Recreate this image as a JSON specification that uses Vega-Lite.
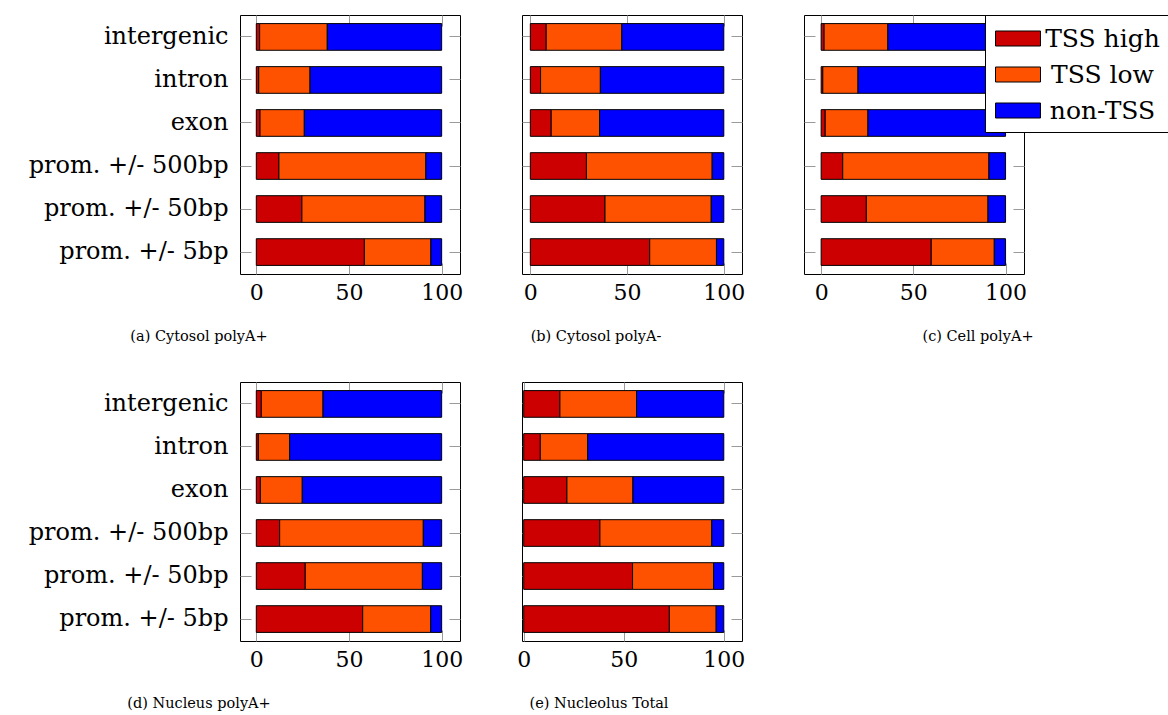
{
  "$schema": "https://vega.github.io/schema/vega-lite/v6.json",
  "background": "white",
  "padding": {"left": 20, "top": 14, "right": 0, "bottom": 0},
  "bounds": "flush",
  "data": {"values": [
    {"p":"a","r":"intergenic","c":"TSS high","v":1.8},{"p":"a","r":"intergenic","c":"TSS low","v":36.5},{"p":"a","r":"intergenic","c":"non-TSS","v":61.7},
    {"p":"a","r":"intron","c":"TSS high","v":1.3},{"p":"a","r":"intron","c":"TSS low","v":27.7},{"p":"a","r":"intron","c":"non-TSS","v":71.0},
    {"p":"a","r":"exon","c":"TSS high","v":2.0},{"p":"a","r":"exon","c":"TSS low","v":23.9},{"p":"a","r":"exon","c":"non-TSS","v":74.1},
    {"p":"a","r":"prom.  +/- 500bp","c":"TSS high","v":12.2},{"p":"a","r":"prom.  +/- 500bp","c":"TSS low","v":79.3},{"p":"a","r":"prom.  +/- 500bp","c":"non-TSS","v":8.5},
    {"p":"a","r":"prom.  +/- 50bp","c":"TSS high","v":24.6},{"p":"a","r":"prom.  +/- 50bp","c":"TSS low","v":66.4},{"p":"a","r":"prom.  +/- 50bp","c":"non-TSS","v":9.0},
    {"p":"a","r":"prom.  +/- 5bp","c":"TSS high","v":58.3},{"p":"a","r":"prom.  +/- 5bp","c":"TSS low","v":35.9},{"p":"a","r":"prom.  +/- 5bp","c":"non-TSS","v":5.8},

    {"p":"b","r":"intergenic","c":"TSS high","v":8.2},{"p":"b","r":"intergenic","c":"TSS low","v":39.1},{"p":"b","r":"intergenic","c":"non-TSS","v":52.7},
    {"p":"b","r":"intron","c":"TSS high","v":5.3},{"p":"b","r":"intron","c":"TSS low","v":30.9},{"p":"b","r":"intron","c":"non-TSS","v":63.8},
    {"p":"b","r":"exon","c":"TSS high","v":10.8},{"p":"b","r":"exon","c":"TSS low","v":25.0},{"p":"b","r":"exon","c":"non-TSS","v":64.2},
    {"p":"b","r":"prom.  +/- 500bp","c":"TSS high","v":29.0},{"p":"b","r":"prom.  +/- 500bp","c":"TSS low","v":65.0},{"p":"b","r":"prom.  +/- 500bp","c":"non-TSS","v":6.0},
    {"p":"b","r":"prom.  +/- 50bp","c":"TSS high","v":38.6},{"p":"b","r":"prom.  +/- 50bp","c":"TSS low","v":54.9},{"p":"b","r":"prom.  +/- 50bp","c":"non-TSS","v":6.5},
    {"p":"b","r":"prom.  +/- 5bp","c":"TSS high","v":61.7},{"p":"b","r":"prom.  +/- 5bp","c":"TSS low","v":34.5},{"p":"b","r":"prom.  +/- 5bp","c":"non-TSS","v":3.8},

    {"p":"c","r":"intergenic","c":"TSS high","v":1.6},{"p":"c","r":"intergenic","c":"TSS low","v":34.6},{"p":"c","r":"intergenic","c":"non-TSS","v":63.8},
    {"p":"c","r":"intron","c":"TSS high","v":0.9},{"p":"c","r":"intron","c":"TSS low","v":19.1},{"p":"c","r":"intron","c":"non-TSS","v":80.0},
    {"p":"c","r":"exon","c":"TSS high","v":2.2},{"p":"c","r":"exon","c":"TSS low","v":23.2},{"p":"c","r":"exon","c":"non-TSS","v":74.6},
    {"p":"c","r":"prom.  +/- 500bp","c":"TSS high","v":11.7},{"p":"c","r":"prom.  +/- 500bp","c":"TSS low","v":79.3},{"p":"c","r":"prom.  +/- 500bp","c":"non-TSS","v":9.0},
    {"p":"c","r":"prom.  +/- 50bp","c":"TSS high","v":24.5},{"p":"c","r":"prom.  +/- 50bp","c":"TSS low","v":66.0},{"p":"c","r":"prom.  +/- 50bp","c":"non-TSS","v":9.5},
    {"p":"c","r":"prom.  +/- 5bp","c":"TSS high","v":59.7},{"p":"c","r":"prom.  +/- 5bp","c":"TSS low","v":34.2},{"p":"c","r":"prom.  +/- 5bp","c":"non-TSS","v":6.1},

    {"p":"d","r":"intergenic","c":"TSS high","v":2.7},{"p":"d","r":"intergenic","c":"TSS low","v":33.3},{"p":"d","r":"intergenic","c":"non-TSS","v":64.0},
    {"p":"d","r":"intron","c":"TSS high","v":1.1},{"p":"d","r":"intron","c":"TSS low","v":16.9},{"p":"d","r":"intron","c":"non-TSS","v":82.0},
    {"p":"d","r":"exon","c":"TSS high","v":2.2},{"p":"d","r":"exon","c":"TSS low","v":22.6},{"p":"d","r":"exon","c":"non-TSS","v":75.2},
    {"p":"d","r":"prom.  +/- 500bp","c":"TSS high","v":12.6},{"p":"d","r":"prom.  +/- 500bp","c":"TSS low","v":77.5},{"p":"d","r":"prom.  +/- 500bp","c":"non-TSS","v":9.9},
    {"p":"d","r":"prom.  +/- 50bp","c":"TSS high","v":26.4},{"p":"d","r":"prom.  +/- 50bp","c":"TSS low","v":63.2},{"p":"d","r":"prom.  +/- 50bp","c":"non-TSS","v":10.4},
    {"p":"d","r":"prom.  +/- 5bp","c":"TSS high","v":57.4},{"p":"d","r":"prom.  +/- 5bp","c":"TSS low","v":36.7},{"p":"d","r":"prom.  +/- 5bp","c":"non-TSS","v":5.9},

    {"p":"e","r":"intergenic","c":"TSS high","v":18.1},{"p":"e","r":"intergenic","c":"TSS low","v":38.3},{"p":"e","r":"intergenic","c":"non-TSS","v":43.6},
    {"p":"e","r":"intron","c":"TSS high","v":8.3},{"p":"e","r":"intron","c":"TSS low","v":23.7},{"p":"e","r":"intron","c":"non-TSS","v":68.0},
    {"p":"e","r":"exon","c":"TSS high","v":21.6},{"p":"e","r":"exon","c":"TSS low","v":33.0},{"p":"e","r":"exon","c":"non-TSS","v":45.4},
    {"p":"e","r":"prom.  +/- 500bp","c":"TSS high","v":38.1},{"p":"e","r":"prom.  +/- 500bp","c":"TSS low","v":55.9},{"p":"e","r":"prom.  +/- 500bp","c":"non-TSS","v":6.0},
    {"p":"e","r":"prom.  +/- 50bp","c":"TSS high","v":54.4},{"p":"e","r":"prom.  +/- 50bp","c":"TSS low","v":40.5},{"p":"e","r":"prom.  +/- 50bp","c":"non-TSS","v":5.1},
    {"p":"e","r":"prom.  +/- 5bp","c":"TSS high","v":72.8},{"p":"e","r":"prom.  +/- 5bp","c":"TSS low","v":23.4},{"p":"e","r":"prom.  +/- 5bp","c":"non-TSS","v":3.8}
  ]},
  "columns": 3,
  "spacing": {"row": 108, "column": 62},
  "concat": [
    {
      "width": 220, "height": 259,
      "title": {"text": "(a) Cytosol polyA+", "orient": "bottom", "dx": -151, "offset": 27},
      "transform": [{"filter": "datum.p === 'a'"}],
      "layer": [
        {"mark": {"type": "bar", "stroke": "black", "strokeWidth": 1},
         "encoding": {
           "y": {"field": "r", "type": "nominal", "sort": ["intergenic","intron","exon","prom.  +/- 500bp","prom.  +/- 50bp","prom.  +/- 5bp"], "scale": {"paddingInner": 0.38, "paddingOuter": 0.2}, "axis": {"orient": "left", "labelFontSize": 24, "labelPadding": 23, "labelLimit": 0}},
           "x": {"field": "v", "type": "quantitative", "stack": "zero", "scale": {"domain": [-8.8, 109.9], "nice": false, "zero": false}, "axis": {"orient": "bottom", "values": [0, 50, 100], "labelFontSize": 22, "labelPadding": 19}},
           "color": {"field": "c", "type": "nominal", "scale": {"domain": ["TSS high","TSS low","non-TSS"], "range": ["#cc0000","#ff5200","#0000ff"]}, "legend": {"orient": "none", "legendX": 745, "legendY": 0}}
         }},
        {"mark": {"type": "bar", "opacity": 0},
         "encoding": {
           "y": {"field": "r", "type": "nominal", "sort": ["intergenic","intron","exon","prom.  +/- 500bp","prom.  +/- 50bp","prom.  +/- 5bp"], "axis": {"orient": "right", "labels": false}},
           "x": {"field": "v", "type": "quantitative", "axis": {"orient": "top", "values": [0, 50, 100], "labels": false}}
         }}
      ],
      "resolve": {"axis": {"x": "independent", "y": "independent"}}
    },
    {
      "width": 220, "height": 259,
      "title": {"text": "(b) Cytosol polyA-", "orient": "bottom", "dx": -36, "offset": 27},
      "transform": [{"filter": "datum.p === 'b'"}],
      "layer": [
        {"mark": {"type": "bar", "stroke": "black", "strokeWidth": 1},
         "encoding": {
           "y": {"field": "r", "type": "nominal", "sort": ["intergenic","intron","exon","prom.  +/- 500bp","prom.  +/- 50bp","prom.  +/- 5bp"], "scale": {"paddingInner": 0.38, "paddingOuter": 0.2}, "axis": {"orient": "left", "labels": false}},
           "x": {"field": "v", "type": "quantitative", "stack": "zero", "scale": {"domain": [-4.3, 109.4], "nice": false, "zero": false}, "axis": {"orient": "bottom", "values": [0, 50, 100], "labelFontSize": 22, "labelPadding": 19}},
           "color": {"field": "c", "type": "nominal", "scale": {"domain": ["TSS high","TSS low","non-TSS"], "range": ["#cc0000","#ff5200","#0000ff"]}, "legend": {"orient": "none", "legendX": 745, "legendY": 0}}
         }},
        {"mark": {"type": "bar", "opacity": 0},
         "encoding": {
           "y": {"field": "r", "type": "nominal", "sort": ["intergenic","intron","exon","prom.  +/- 500bp","prom.  +/- 50bp","prom.  +/- 5bp"], "axis": {"orient": "right", "labels": false}},
           "x": {"field": "v", "type": "quantitative", "axis": {"orient": "top", "values": [0, 50, 100], "labels": false}}
         }}
      ],
      "resolve": {"axis": {"x": "independent", "y": "independent"}}
    },
    {
      "width": 220, "height": 259,
      "title": {"text": "(c) Cell polyA+", "orient": "bottom", "dx": 64, "offset": 27},
      "transform": [{"filter": "datum.p === 'c'"}],
      "layer": [
        {"mark": {"type": "bar", "stroke": "black", "strokeWidth": 1},
         "encoding": {
           "y": {"field": "r", "type": "nominal", "sort": ["intergenic","intron","exon","prom.  +/- 500bp","prom.  +/- 50bp","prom.  +/- 5bp"], "scale": {"paddingInner": 0.38, "paddingOuter": 0.2}, "axis": {"orient": "left", "labels": false}},
           "x": {"field": "v", "type": "quantitative", "stack": "zero", "scale": {"domain": [-9.3, 110], "nice": false, "zero": false}, "axis": {"orient": "bottom", "values": [0, 50, 100], "labelFontSize": 22, "labelPadding": 19}},
           "color": {"field": "c", "type": "nominal", "scale": {"domain": ["TSS high","TSS low","non-TSS"], "range": ["#cc0000","#ff5200","#0000ff"]}, "legend": {"orient": "none", "legendX": 745, "legendY": 0}}
         }},
        {"mark": {"type": "bar", "opacity": 0},
         "encoding": {
           "y": {"field": "r", "type": "nominal", "sort": ["intergenic","intron","exon","prom.  +/- 500bp","prom.  +/- 50bp","prom.  +/- 5bp"], "axis": {"orient": "right", "labels": false}},
           "x": {"field": "v", "type": "quantitative", "axis": {"orient": "top", "values": [0, 50, 100], "labels": false}}
         }}
      ],
      "resolve": {"axis": {"x": "independent", "y": "independent"}}
    },
    {
      "width": 220, "height": 259,
      "title": {"text": "(d) Nucleus polyA+", "orient": "bottom", "dx": -151, "offset": 27},
      "transform": [{"filter": "datum.p === 'd'"}],
      "layer": [
        {"mark": {"type": "bar", "stroke": "black", "strokeWidth": 1},
         "encoding": {
           "y": {"field": "r", "type": "nominal", "sort": ["intergenic","intron","exon","prom.  +/- 500bp","prom.  +/- 50bp","prom.  +/- 5bp"], "scale": {"paddingInner": 0.38, "paddingOuter": 0.2}, "axis": {"orient": "left", "labelFontSize": 24, "labelPadding": 23, "labelLimit": 0}},
           "x": {"field": "v", "type": "quantitative", "stack": "zero", "scale": {"domain": [-8.8, 109.9], "nice": false, "zero": false}, "axis": {"orient": "bottom", "values": [0, 50, 100], "labelFontSize": 22, "labelPadding": 19}},
           "color": {"field": "c", "type": "nominal", "scale": {"domain": ["TSS high","TSS low","non-TSS"], "range": ["#cc0000","#ff5200","#0000ff"]}, "legend": {"orient": "none", "legendX": 745, "legendY": 0}}
         }},
        {"mark": {"type": "bar", "opacity": 0},
         "encoding": {
           "y": {"field": "r", "type": "nominal", "sort": ["intergenic","intron","exon","prom.  +/- 500bp","prom.  +/- 50bp","prom.  +/- 5bp"], "axis": {"orient": "right", "labels": false}},
           "x": {"field": "v", "type": "quantitative", "axis": {"orient": "top", "values": [0, 50, 100], "labels": false}}
         }}
      ],
      "resolve": {"axis": {"x": "independent", "y": "independent"}}
    },
    {
      "width": 220, "height": 259,
      "title": {"text": "(e) Nucleolus Total", "orient": "bottom", "dx": -33, "offset": 27},
      "transform": [{"filter": "datum.p === 'e'"}],
      "layer": [
        {"mark": {"type": "bar", "stroke": "black", "strokeWidth": 1},
         "encoding": {
           "y": {"field": "r", "type": "nominal", "sort": ["intergenic","intron","exon","prom.  +/- 500bp","prom.  +/- 50bp","prom.  +/- 5bp"], "scale": {"paddingInner": 0.38, "paddingOuter": 0.2}, "axis": {"orient": "left", "labels": false}},
           "x": {"field": "v", "type": "quantitative", "stack": "zero", "scale": {"domain": [-0.85, 109.1], "nice": false, "zero": false}, "axis": {"orient": "bottom", "values": [0, 50, 100], "labelFontSize": 22, "labelPadding": 19}},
           "color": {"field": "c", "type": "nominal", "scale": {"domain": ["TSS high","TSS low","non-TSS"], "range": ["#cc0000","#ff5200","#0000ff"]}, "legend": {"orient": "none", "legendX": 745, "legendY": 0}}
         }},
        {"mark": {"type": "bar", "opacity": 0},
         "encoding": {
           "y": {"field": "r", "type": "nominal", "sort": ["intergenic","intron","exon","prom.  +/- 500bp","prom.  +/- 50bp","prom.  +/- 5bp"], "axis": {"orient": "right", "labels": false}},
           "x": {"field": "v", "type": "quantitative", "axis": {"orient": "top", "values": [0, 50, 100], "labels": false}}
         }}
      ],
      "resolve": {"axis": {"x": "independent", "y": "independent"}}
    }
  ],
  "config": {
    "font": "DejaVu Serif",
    "view": {"stroke": "black", "strokeWidth": 1},
    "axis": {"domain": false, "grid": false, "title": null, "tickColor": "#9a9a9a", "tickSize": -11, "tickWidth": 1, "labelColor": "black", "labelFont": "DejaVu Serif"},
    "title": {"font": "DejaVu Serif", "fontSize": 14.5, "fontWeight": "normal", "color": "black", "anchor": "middle"},
    "legend": {
      "title": null,
      "fillColor": "white",
      "strokeColor": "black",
      "padding": 8,
      "symbolType": "M-1.5,-0.5H1.5V0.5H-1.5Z",
      "symbolSize": 900,
      "symbolOffset": 9.5,
      "symbolStrokeColor": "black",
      "symbolStrokeWidth": 1,
      "symbolOpacity": 1,
      "labelFont": "DejaVu Serif",
      "labelFontSize": 25,
      "labelColor": "black",
      "labelAlign": "center",
      "labelOffset": 69,
      "rowPadding": 7
    }
  }
}
